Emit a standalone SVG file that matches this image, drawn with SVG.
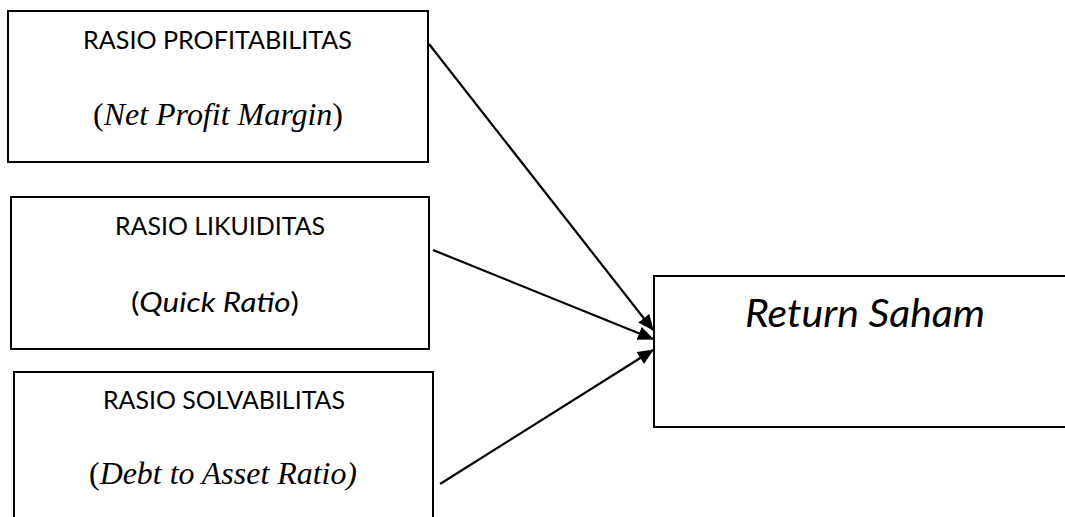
<svg xmlns="http://www.w3.org/2000/svg" width="1065" height="517" viewBox="0 0 1065 517">
<style>
.box{fill:#fff;stroke:#000;stroke-width:2}
.sans{font-family:Lato,"Open Sans","Liberation Sans",sans-serif;font-size:25px;fill:#000}
.serif{font-family:"Liberation Serif",serif;font-size:32px;font-style:italic;fill:#000}
.big{font-size:39px;font-style:italic}
.conn{stroke:#000;stroke-width:2.2;fill:none;marker-end:url(#ah)}
</style>
<defs>
<marker id="ah" markerWidth="16" markerHeight="14" refX="15" refY="7" orient="auto" markerUnits="userSpaceOnUse">
<path d="M0,0 L16,7 L0,14 Z" fill="#000"/>
</marker>
</defs>
<rect width="1065" height="517" fill="#fff"/>
<g id="n1">
<rect class="box" x="8" y="11" width="420" height="151"/>
<text class="sans" x="83" y="49" textLength="269" lengthAdjust="spacingAndGlyphs">RASIO PROFITABILITAS</text>
<text class="serif" x="93" y="125" textLength="250" lengthAdjust="spacingAndGlyphs"><tspan font-style="normal">(</tspan>Net Profit Margin<tspan font-style="normal">)</tspan></text>
</g>
<g id="n2">
<rect class="box" x="11" y="197" width="418" height="152"/>
<text class="sans" x="115" y="235" textLength="210" lengthAdjust="spacingAndGlyphs">RASIO LIKUIDITAS</text>
<text class="sans" x="131" y="312" textLength="168" lengthAdjust="spacingAndGlyphs" style="font-size:27px">(<tspan font-style="italic">Quick Ratio</tspan>)</text>
</g>
<g id="n3">
<rect class="box" x="14" y="372" width="419" height="150"/>
<text class="sans" x="103" y="409" textLength="242" lengthAdjust="spacingAndGlyphs">RASIO SOLVABILITAS</text>
<text class="serif" x="89" y="484" textLength="268" lengthAdjust="spacingAndGlyphs"><tspan font-style="normal">(</tspan>Debt to Asset Ratio)</text>
</g>
<g id="n4">
<rect class="box" x="654" y="276" width="420" height="151"/>
<text class="sans big" x="745" y="327" textLength="240" lengthAdjust="spacingAndGlyphs">Return Saham</text>
</g>
<g id="connectors">
<line class="conn" x1="429" y1="44" x2="653" y2="330"/>
<line class="conn" x1="433" y1="250" x2="653" y2="339"/>
<line class="conn" x1="440" y1="484" x2="653" y2="350"/>
</g>
</svg>
